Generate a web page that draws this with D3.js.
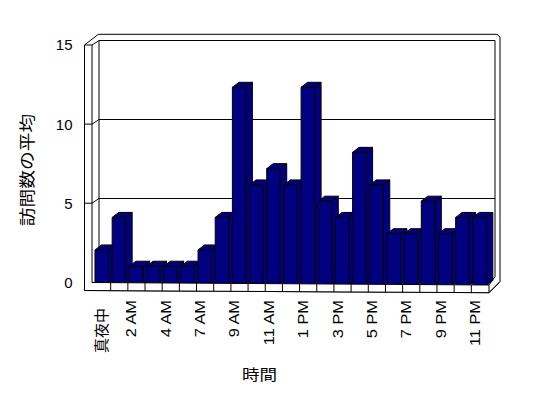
<!DOCTYPE html>
<html>
<head>
<meta charset="utf-8">
<script src="https://cdn.jsdelivr.net/npm/d3@7"></script>
<style>
  body { margin: 0; background: #fff; }
  text { font-family: "Liberation Sans", Arial, sans-serif; fill: #000; }
  .cjk { font-family: "Noto Sans CJK JP", sans-serif; }
</style>
</head>
<body>
<div id="chartArea"></div>
<script>
// data
const hours = ["真夜中", "1 AM", "2 AM", "3 AM", "4 AM", "6 AM", "7 AM", "8 AM", "9 AM", "10 AM", "11 AM", "12 PM",
               "1 PM", "2 PM", "3 PM", "4 PM", "5 PM", "6 PM", "7 PM", "8 PM", "9 PM", "10 PM", "11 PM"];
const visits = [2, 4, 1, 1, 1, 1, 2, 4, 12, 6, 7, 6, 12, 5, 4, 8, 6, 3, 3, 5, 3, 4, 4];
const yTicks = [0, 5, 10, 15];
const xTitle = "時間";
const yTitle = "訪問数の平均";

const navy = "#000080";

const svg = d3.select("#chartArea").append("svg")
  .attr("width", 548)
  .attr("height", 398);

// scales (front plane, back wall, bars)
const x = d3.scaleBand().domain(hours).range([93.5, 488.5]).padding(0);
const yFront = d3.scaleLinear().domain([0, 15]).range([282.3, 45]);
const yBack = d3.scaleLinear().domain([0, 15]).range([277.5, 40.5]);
const yBar = d3.scaleLinear().domain([0, 15]).range([282.5, 38.5]);
// floor is slightly tilted
const floorTop = d3.scaleLinear().domain([92, 489]).range([282.5, 285]);
const floorBot = d3.scaleLinear().domain([84.5, 489]).range([290.5, 292.7]);

const line = d3.line();
const bw = x.bandwidth();
const dx = 6.5, dy = -5;   // bar depth

// walls outline
svg.append("path")
  .attr("d", line([[84.5, 45], [98.3, 34.3], [497, 34.3], [500, 37], [500, 281.7], [489, 292.7], [84.5, 290.5]]) + "Z")
  .attr("fill", "#fff").attr("stroke", "#000");

svg.append("path")
  .attr("d", line([[92, 45], [99, 40.5], [495, 40.5], [495, 276.7]]))
  .attr("fill", "none").attr("stroke", "#000");
svg.append("path")
  .attr("d", line([[99, 40.5], [99, yBack(0)]]))
  .attr("fill", "none").attr("stroke", "#000");

// gridlines
const grid = yTicks.filter(v => v > 0 && v < 15);
svg.selectAll(".grid")
  .data(grid)
  .enter()
  .append("path")
    .attr("class", "grid")
    .attr("d", v => line([[84.5, yFront(v)], [92, yFront(v)], [99, yBack(v)], [495, yBack(v)]]))
    .attr("fill", "none")
    .attr("stroke", "#000");

// bars
const bars = svg.selectAll(".bar")
  .data(visits)
  .enter()
  .append("g")
    .attr("class", "bar");

bars.each(function(v, i) {
  const g = d3.select(this);
  const x0 = x(hours[i]) + bw * 0.087;
  const x1 = x0 + bw * 0.786;
  const yt = yBar(v);
  const yb = yBar(0) + 3;
  g.append("path")
    .attr("d", line([[x1, yt], [x1 + dx, yt + dy], [x1 + dx, yb + dy], [x1, yb]]) + "Z");
  g.append("path")
    .attr("d", line([[x0, yt], [x0 + dx, yt + dy], [x1 + dx, yt + dy], [x1, yt]]) + "Z");
  g.append("path")
    .attr("d", line([[x0, yt], [x1, yt], [x1, yb], [x0, yb]]) + "Z");
});
bars.selectAll("path")
  .attr("fill", navy)
  .attr("stroke", "#000")
  .attr("stroke-linejoin", "miter");

// floor front + left wall edge
svg.append("path")
  .attr("d", line([[84.5, 45], [92, 45], [92, floorTop(92)], [489, floorTop(489)], [489, floorBot(489)], [84.5, floorBot(84.5)]]) + "Z")
  .attr("fill", "#fff").attr("stroke", "#000");
svg.append("path")
  .attr("d", line([[489, floorBot(489)], [500, 281.7]]))
  .attr("stroke", "#000");
svg.append("path")
  .attr("d", line([[489, floorTop(489)], [495, 276.7]]))
  .attr("stroke", "#000");

svg.selectAll(".ytk")
  .data(grid)
  .enter()
  .append("path")
    .attr("class", "ytk")
    .attr("d", v => line([[84.5, yFront(v)], [92, yFront(v)]]))
    .attr("stroke", "#000");

// category dividers on the floor
svg.selectAll(".div")
  .data(hours.slice(1))
  .enter()
  .append("path")
    .attr("class", "div")
    .attr("d", d => line([[x(d), floorTop(x(d))], [x(d), floorBot(x(d))]]))
    .attr("stroke", "#000");

// y tick labels
svg.selectAll(".ylab")
  .data(yTicks)
  .enter()
  .append("text")
    .attr("class", "ylab")
    .attr("x", 72.5)
    .attr("y", v => yFront(v))
    .attr("dy", "0.36em")
    .attr("text-anchor", "end")
    .attr("font-size", "15px")
    .text(v => v);

// x tick labels (every other)
const isCjk = s => /[^\x00-\x7F]/.test(s);
svg.selectAll(".xlab")
  .data(hours.filter((d, i) => i % 2 === 0))
  .enter()
  .append("text")
    .attr("class", d => isCjk(d) ? "xlab cjk" : "xlab")
    .attr("transform", d => {
      const cx = x(d) + bw / 2;
      return isCjk(d)
        ? "translate(" + (cx + 5) + ",308) rotate(-90)"
        : "translate(" + cx + ",300) rotate(-90) scale(1.17,1)";
    })
    .attr("text-anchor", "end")
    .attr("font-size", d => isCjk(d) ? "15px" : "14px")
    .text(d => d);

// axis titles
svg.append("text")
  .attr("class", "cjk")
  .attr("transform", "translate(259.5,375) scale(1.17,1)")
  .attr("text-anchor", "middle")
  .attr("dy", "0.35em")
  .attr("font-size", "15px")
  .text(xTitle);

svg.append("text")
  .attr("class", "cjk")
  .attr("transform", "translate(27,170) rotate(-90) scale(1.17,1)")
  .attr("text-anchor", "middle")
  .attr("dy", "0.35em")
  .attr("font-size", "16px")
  .text(yTitle);
</script>
</body>
</html>
